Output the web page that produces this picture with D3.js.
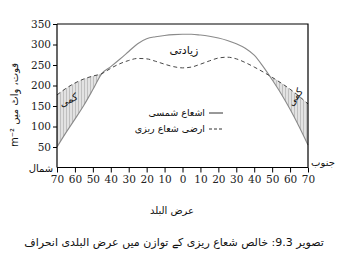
<!DOCTYPE html>
<html>
<head>
<meta charset="utf-8">
<script src="https://cdn.jsdelivr.net/npm/d3@7"></script>
<style>
  body { margin: 0; background: #fff; }
  svg { display: block; }
  .ur { font-family: "DejaVu Sans", sans-serif; fill: #111; direction: rtl; unicode-bidi: embed; }
</style>
</head>
<body>
<div id="chart"></div>
<script>
/* latitude: positive = north (left), negative = south (right) */
const latitudes = [70, 65, 60, 55, 50, 45, 40, 35, 30, 25, 20, 15, 10, 5, 0,
    -5, -10, -15, -20, -25, -30, -35, -40, -45, -50, -55, -60, -65, -70];

/* incoming solar radiation (solid) */
const solarValues = [50, 85, 118, 152, 190, 229, 246, 264, 283, 302, 314, 319, 322, 324, 325,
    325, 323, 320, 316, 310, 302, 291, 274, 246, 214, 180, 142, 100, 55];

/* outgoing terrestrial radiation (dashed) */
const terrestrialValues = [177, 193, 206, 216, 223, 229, 242, 253, 261, 266, 265, 259, 252, 246, 243,
    245, 252, 260, 267, 269, 265, 256, 245, 233, 220, 206, 191, 174, 155];

const xTicks = [70, 60, 50, 40, 30, 20, 10, 0, -10, -20, -30, -40, -50, -60, -70];
const yTicks = [50, 100, 150, 200, 250, 300, 350];

const width = 343, height = 272;
const plot = { left: 57, right: 308, top: 24, bottom: 167.5 };

const svg = d3.select('#chart').append('svg')
    .attr('width', width)
    .attr('height', height);

const xScale = d3.scaleLinear()
    .domain([70, -70])
    .range([plot.left, plot.right]);

const yScale = d3.scaleLinear()
    .domain([0, 350])
    .range([plot.bottom, plot.top]);

const solar = latitudes.map((lat, i) => [lat, solarValues[i]]);
const terrestrial = latitudes.map((lat, i) => [lat, terrestrialValues[i]]);

/* hatch pattern for the deficit areas */
const defs = svg.append('defs');
const pattern = defs.append('pattern')
    .attr('id', 'hatch')
    .attr('patternUnits', 'userSpaceOnUse')
    .attr('width', 3)
    .attr('height', 6);
pattern.append('rect').attr('width', 3).attr('height', 6).attr('fill', '#e2e2e2');
pattern.append('line')
    .attr('x1', 0.5).attr('x2', 0.5).attr('y1', 0).attr('y2', 6)
    .attr('stroke', '#a8a8a8').attr('stroke-width', 0.6);

/* clip: everything above the solar curve */
defs.append('clipPath').attr('id', 'aboveSolar')
    .append('path')
    .attr('d', d3.area()
        .x(d => xScale(d[0]))
        .y0(d => yScale(d[1]))
        .y1(yScale(350))
        .curve(d3.curveMonotoneX)(solar));

/* area under terrestrial curve, clipped above solar -> deficit */
svg.append('path')
    .attr('d', d3.area()
        .x(d => xScale(d[0]))
        .y0(yScale(0))
        .y1(d => yScale(d[1]))
        .curve(d3.curveMonotoneX)(terrestrial))
    .attr('fill', 'url(#hatch)')
    .attr('clip-path', 'url(#aboveSolar)');

const line = d3.line()
    .x(d => xScale(d[0]))
    .y(d => yScale(d[1]))
    .curve(d3.curveMonotoneX);

svg.append('path')
    .attr('d', line(solar))
    .attr('fill', 'none')
    .attr('stroke', '#8a8a8a')
    .attr('stroke-width', 1.1);

svg.append('path')
    .attr('d', line(terrestrial))
    .attr('fill', 'none')
    .attr('stroke', '#333')
    .attr('stroke-width', 0.9)
    .attr('stroke-dasharray', '4,3');

/* frame */
svg.append('path')
    .attr('d', `M${plot.left},${plot.top}H${plot.right}V${plot.bottom}`)
    .attr('fill', 'none')
    .attr('stroke', '#000')
    .attr('stroke-width', 1.2);

/* axes */
const xAxis = svg.append('g')
    .attr('transform', `translate(0, ${plot.bottom})`)
    .call(d3.axisBottom(xScale).tickValues(xTicks).tickFormat(d => Math.abs(d)).tickSize(5).tickPadding(3));

const yAxis = svg.append('g')
    .attr('transform', `translate(${plot.left}, 0)`)
    .call(d3.axisLeft(yScale).tickValues(yTicks).tickSize(4).tickPadding(2));

[xAxis, yAxis].forEach(g => {
    g.attr('font-family', '"DejaVu Serif", "Liberation Serif", serif').attr('font-size', 10.5);
    g.selectAll('.tick text').attr('fill', '#222');
    g.select('.domain').attr('stroke', '#000').attr('stroke-width', 1.2);
    g.selectAll('.tick line').attr('stroke', '#000').attr('stroke-width', 1);
});
yAxis.select('.domain').attr('d', `M0,${plot.bottom}V${plot.top}`);
xAxis.select('.domain').attr('d', `M${plot.left},0H${plot.right}`);

/* texts */
function urdu(x, y, txt, size, anchor, rotate) {
    const t = svg.append('text')
        .attr('class', 'ur')
        .attr('x', x)
        .attr('y', y)
        .attr('text-anchor', anchor || 'middle')
        .style('font-size', size + 'px')
        .text(txt);
    if (rotate) t.attr('transform', `rotate(${rotate}, ${x}, ${y})`);
    return t;
}

urdu(184, 54, 'زیادتی', 11);
urdu(70, 103, 'کمی', 10, 'middle', -25);
urdu(298, 99, 'کمی', 10, 'middle', -55);

urdu(41, 172, 'شمال', 10);
urdu(323, 166, 'جنوب', 10);
urdu(172, 214, 'عرض البلد', 10);

urdu(18, 105, 'قوت، واٹ میں m⁻²', 10, 'middle', -90);

/* legend */
urdu(205, 116, 'اشعاع شمسی', 9.5, 'start');
urdu(205, 132, 'ارضی شعاع ریزی', 9.5, 'start');
svg.append('line')
    .attr('x1', 209).attr('x2', 223).attr('y1', 113).attr('y2', 113)
    .attr('stroke', '#333').attr('stroke-width', 1);
svg.append('line')
    .attr('x1', 209).attr('x2', 223).attr('y1', 129).attr('y2', 129)
    .attr('stroke', '#333').attr('stroke-width', 1)
    .attr('stroke-dasharray', '3,2');

/* caption */
urdu(174, 246, 'تصویر 9.3: خالص شعاع ریزی کے توازن میں عرض البلدی انحراف', 11);
</script>
</body>
</html>
